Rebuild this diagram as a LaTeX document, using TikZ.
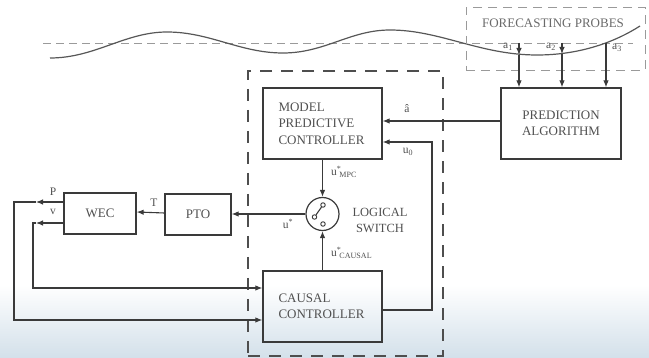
\documentclass[tikz,border=0pt]{standalone}
\usepackage{fontspec}
\setmainfont{Liberation Serif}
\usetikzlibrary{arrows.meta,calc}
\definecolor{ink}{HTML}{3A3A3A}
\definecolor{txt}{HTML}{505050}
\definecolor{lightln}{HTML}{9A9A9A}
\definecolor{bgblue}{HTML}{D3E0EA}
\begin{document}
\begin{tikzpicture}[x=1pt,y=-1pt,
  box/.style={draw=ink, line width=1.3pt, text=txt, inner ysep=0pt,
    font=\fontsize{13}{16.5}\selectfont},
  lbox/.style={box, align=left, text width=88pt, inner xsep=15.5pt,
    minimum width=119pt, minimum height=71pt},
  conn/.style={draw=ink, line width=1.1pt, -{Latex[length=7pt,width=5.5pt]}},
  lbl/.style={text=txt, inner sep=0pt, font=\fontsize{11.5}{12}\selectfont},
  sm/.style={draw=ink, line width=0.9pt, fill=white, circle, inner sep=0pt, minimum size=4.5pt},
]
\useasboundingbox (0,0) rectangle (649,358);
\shade[top color=white, bottom color=bgblue] (0,285) rectangle (649,358);

% still water line and wave
\draw[lightln, line width=0.8pt, dash pattern=on 8pt off 5pt] (43,43) -- (633,43);
\coordinate (w0) at (50,58);
\coordinate (w1) at (167,32);
\coordinate (w2) at (283,53);
\coordinate (w3) at (390,30);
\coordinate (w4) at (537,55);
\coordinate (w5) at (640,26);
\draw[ink!85, line width=1.2pt]
  (w0) .. controls (95,58) and (125,32) .. (w1)
       .. controls (210,32) and (240,53) .. (w2)
       .. controls (325,53) and (350,30) .. (w3)
       .. controls (440,30) and (480,55) .. (w4)
       .. controls (580,55) and (615,42) .. (w5);

% forecasting probes box
\node[draw=lightln, line width=0.9pt, dash pattern=on 9pt off 6pt,
  minimum width=179pt, minimum height=63pt, inner sep=0pt] (fp) at (555.5,38.5) {};
\node[text=txt!85, font=\fontsize{13}{15}\selectfont, inner sep=0pt] (fpt) at (553,23) {FORECASTING PROBES};

% controller dashed region
\node[draw=ink!90, line width=1.8pt, dash pattern=on 12pt off 9pt,
  minimum width=195pt, minimum height=285pt, inner sep=0pt] (ctrl) at (345.5,213.5) {};

% blocks
\node[lbox] (mpc) at (322.5,123.5) {MODEL\\PREDICTIVE\\CONTROLLER};
\node[lbox] (cc) at (322.5,306.5) {CAUSAL\\CONTROLLER};
\node[box, align=center, minimum width=120pt, minimum height=71pt] (pred) at (561,123.5) {PREDICTION\\ALGORITHM};
\node[box, minimum width=72pt, minimum height=41pt] (wec) at (100,213.5) {WEC};
\node[box, minimum width=66pt, minimum height=41pt] (pto) at (198,214.5) {PTO};

% logical switch
\node[draw=ink, line width=1.2pt, circle, minimum size=33pt, inner sep=0pt] (sw) at (322.5,214) {};
\node[sm] (s1) at (314.5,217) {};
\node[sm] (s2) at (323,205) {};
\node[sm] (s3) at (323,224) {};
\draw[ink, line width=1.1pt] (s1) -- (s2);
\node[lbl, align=center, font=\fontsize{12.5}{16}\selectfont] (swl) at (380,220) {LOGICAL\\SWITCH};

% probes
\coordinate (a1t) at (519,43);
\coordinate (a1w) at (519,55);
\coordinate (a2t) at (562,43);
\coordinate (a2w) at (562,54);
\coordinate (a3w) at (606,43);
\draw[conn] (a1t) -- (a1w);
\draw[conn] (a2t) -- (a2w);
\draw[conn] (a1w) -- (pred.north -| a1w);
\draw[conn] (a2w) -- (pred.north -| a2w);
\draw[conn] (a3w) -- (pred.north -| a3w);
\node[lbl] (la1) at (508,47) {a\textsubscript{1}};
\node[lbl] (la2) at (551,47) {a\textsubscript{2}};
\node[lbl] (la3) at (617,48) {a\textsubscript{3}};

% prediction to MPC
\draw[conn] ([yshift=2.5pt]pred.west) -- ([yshift=2.5pt]mpc.east);
\node[lbl] (lah) at (407,109) {â};

% causal feedback u0
\coordinate (u0c) at (432,142);
\draw[conn] ([yshift=-3.5pt]cc.east) -| (u0c) -- ([yshift=-18.5pt]mpc.east);
\node[lbl] (lu0) at (408,152) {u\textsubscript{0}};

% switch connections
\draw[conn] (mpc.south) -- (sw.north);
\draw[conn] (cc.north) -- (sw.south);
\node[lbl, anchor=west] (lmpc) at (331,172) {u\textsuperscript{*}\kern-2pt\textsubscript{MPC}};
\node[lbl, anchor=west] (lcau) at (331,253) {u\textsuperscript{*}\kern-2pt\textsubscript{CAUSAL}};
\draw[conn] (sw.west) -- (pto.east |- sw.west);
\node[lbl] (lu) at (288,224) {u\textsuperscript{*}};

% PTO to WEC
\draw[conn] ([yshift=1.5pt]pto.west) -- ([yshift=1.5pt]wec.east);
\node[lbl] (lT) at (154,203) {T};

% WEC outputs to causal controller
\coordinate (pA) at (36,202);
\coordinate (pB) at (14,202);
\coordinate (vA) at (36,223);
\coordinate (vB) at (33,223);
\draw[conn] ([yshift=11.5pt]wec.west) -- (pA);
\draw[conn] (pA) -- (pB) |- ([yshift=-13.5pt]cc.west);
\draw[conn] ([yshift=-9.5pt]wec.west) -- (vA);
\draw[conn] (vA) -- (vB) |- ([yshift=18.5pt]cc.west);
\node[lbl] (lP) at (53,192) {P};
\node[lbl] (lv) at (53,212) {v};
\end{tikzpicture}
\end{document}
